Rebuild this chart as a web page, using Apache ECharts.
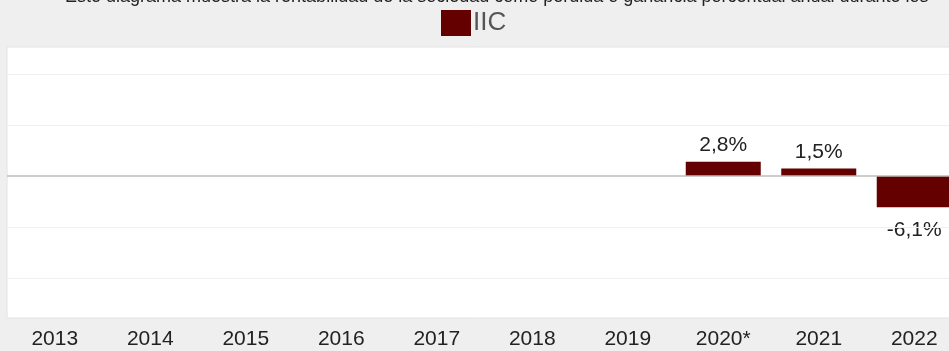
<!DOCTYPE html>
<html>
<head>
<meta charset="utf-8">
<script src="https://cdn.jsdelivr.net/npm/echarts@6/dist/echarts.min.js"></script>
<style>
html, body { margin: 0; padding: 0; background: #efefef; }
#chart { width: 949px; height: 351px; }
</style>
</head>
<body>
<div id="chart"></div>
<script>
// data
const years = ["2013", "2014", "2015", "2016", "2017", "2018", "2019", "2020*", "2021", "2022"];
const iic = [null, null, null, null, null, null, null, 2.8, 1.5, -6.1];
const gridLines = [-20, -10, 10, 20];
const seriesName = "IIC";
const titleText = "Este diagrama muestra la rentabilidad de la sociedad como pérdida o ganancia porcentual anual durante los";

const fmtPct = v => String(v).replace(".", ",") + "%";

const graph = echarts.init(document.getElementById("chart"));

const option = {
    backgroundColor: "#efefef",
    animation: false,
    title: {
        text: titleText,
        left: 65,
        top: -12,
        padding: 0,
        textStyle: {
            fontFamily: "Liberation Sans",
            fontSize: 18,
            fontWeight: "normal",
            color: "#222",
            lineHeight: 18,
        },
    },
    legend: {
        left: 441,
        top: 10,
        padding: 0,
        icon: "rect",
        itemWidth: 30,
        itemHeight: 26,
        itemGap: 2,
        textStyle: {
            fontFamily: "Liberation Sans",
            fontSize: 26,
            color: "#555",
            padding: [0, 0, 0, -3],
        },
        data: [seriesName],
    },
    grid: {
        show: true,
        left: 7,
        width: 955,
        top: 47,
        bottom: 33,
        backgroundColor: "#fff",
        borderColor: "#e2e2e2",
        borderWidth: 1,
        containLabel: false,
        outerBoundsMode: "none",
    },
    xAxis: {
        type: "category",
        data: years,
        axisLine: { show: false },
        axisTick: { show: false },
        splitLine: { show: false },
        axisLabel: {
            margin: 11,
            fontFamily: "Liberation Sans",
            fontSize: 21,
            color: "#222",
            interval: 0,
        },
    },
    yAxis: {
        type: "value",
        min: -27.8,
        max: 25.3,
        show: false,
        splitLine: { show: false },
    },
    series: [
        {
            name: seriesName,
            type: "bar",
            // negative bars get their label below the bar
            data: iic.map(v =>
                v !== null && v < 0
                    ? { value: v, label: { position: "bottom", distance: 12 } }
                    : v
            ),
            barWidth: 75,
            itemStyle: { color: "#650000" },
            label: {
                show: true,
                fontFamily: "Liberation Sans",
                fontSize: 21,
                color: "#222",
                formatter: p => fmtPct(p.value),
                position: "top",
                distance: 6,
            },
            markLine: {
                silent: true,
                symbol: "none",
                label: { show: false },
                data: gridLines.map(v => ({ yAxis: v, lineStyle: { color: "#f0f0f0", width: 1, type: "solid" } }))
                    .concat([{ yAxis: 0, lineStyle: { color: "#bdbdbd", width: 1.5, type: "solid" } }]),
            },
            z: 3,
        },
    ],
};

graph.setOption(option);
</script>
</body>
</html>
